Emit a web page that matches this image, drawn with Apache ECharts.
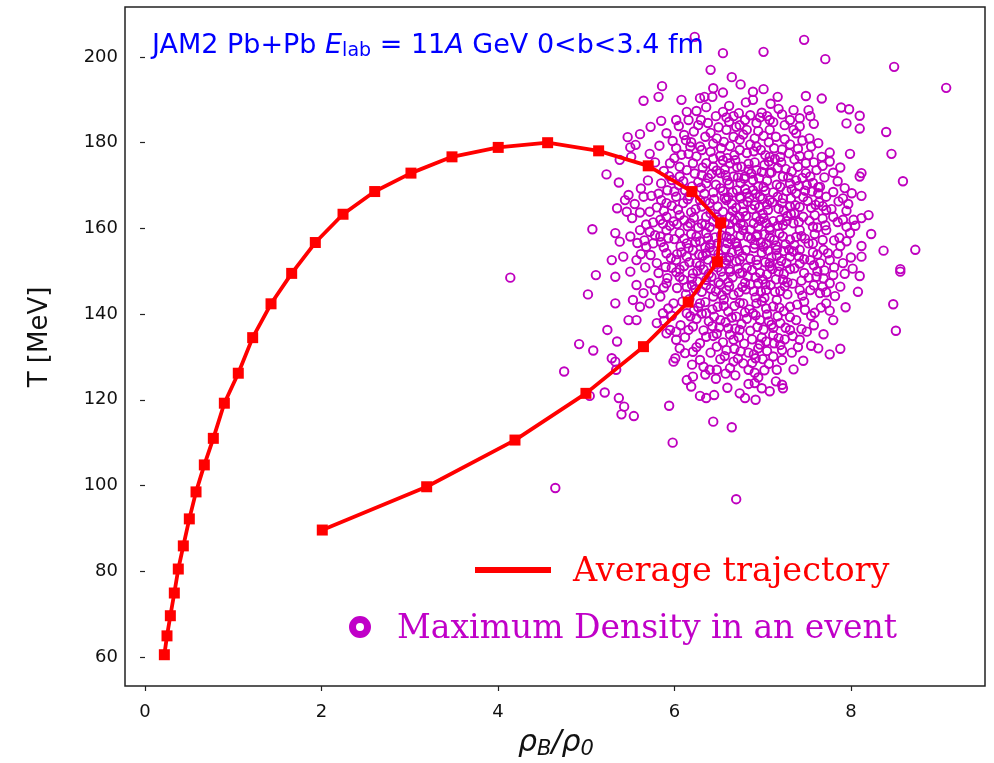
<!DOCTYPE html>
<html><head><meta charset="utf-8">
<script src="https://cdn.jsdelivr.net/npm/echarts@6/dist/echarts.min.js"></script>
<style>html,body{margin:0;padding:0;background:#fff}#c{width:994px;height:763px}</style>
</head><body><div id="c"></div>
<script>
const xTicks = [0, 2, 4, 6, 8];
const yTicks = [60, 80, 100, 120, 140, 160, 180, 200];
const trajRho = [0.219,0.249,0.287,0.332,0.377,0.434,0.502,0.578,0.672,0.774,0.899,1.057,1.220,1.428,1.662,1.930,2.244,2.603,3.014,3.479,4.003,4.563,5.141,5.703,6.198,6.524,6.487,6.156,5.649,4.997,4.193,3.192,2.009];
const trajT = [60.5,64.9,69.6,74.9,80.5,85.9,92.2,98.5,104.8,111.0,119.2,126.2,134.5,142.4,149.5,156.7,163.3,168.6,172.9,176.7,178.9,180.0,178.1,174.6,168.6,161.3,152.2,142.8,132.4,121.5,110.6,99.7,89.6];
const maxDensityEvents = [
[6.23,204.7],[6.55,200.9],[6.41,197.0],[6.65,195.3],[6.75,193.6],[6.55,191.7],[6.44,192.7],[5.86,193.2],[5.82,190.7],[5.65,189.8],[6.08,190.0],[6.29,190.4],[6.34,190.7],[6.43,190.7],[6.14,187.2],[6.25,187.4],[6.30,185.3],[6.16,185.3],[6.02,185.3],[5.85,185.1],[6.47,186.2],[6.55,187.2],[6.59,185.9],[6.67,186.2],[6.74,184.1],[6.80,185.3],[5.73,183.7],[5.61,182.0],[5.47,181.3],[5.91,182.2],[6.11,181.8],[6.13,180.6],[6.48,181.0],[6.59,183.0],[6.70,183.7],[6.67,181.4],[6.82,183.0],[5.50,178.9],[5.56,179.5],[5.72,177.4],[6.02,178.7],[6.18,179.1],[6.29,179.1],[6.53,178.7],[6.74,178.3],[5.38,176.0],[5.51,176.7],[5.95,175.2],[6.06,174.4],[6.21,175.2],[6.36,175.2],[6.44,174.4],[6.63,175.2],[6.76,174.4],[5.23,172.6],[5.37,170.7],[5.85,170.5],[5.97,171.3],[6.06,172.1],[6.36,170.5],[6.52,172.9],[6.67,172.1],[6.80,172.1],[5.48,167.8],[5.44,166.6],[5.55,165.7],[5.65,167.4],[5.74,167.6],[5.85,166.6],[5.91,165.9],[6.02,167.4],[6.10,165.9],[6.29,166.6],[6.40,165.9],[6.59,166.6],[6.74,167.4],[6.82,168.2],[5.35,164.7],[5.46,163.9],[5.61,163.7],[5.72,163.9],[5.84,162.0],[5.91,162.7],[5.99,161.6],[6.06,163.1],[6.18,161.2],[6.36,162.7],[6.44,161.6],[6.63,162.7],[6.74,162.7],[5.07,159.8],[5.33,158.9],[5.38,156.9],[5.50,158.1],[5.61,159.6],[5.72,159.2],[5.76,156.5],[5.84,158.1],[5.91,159.6],[6.06,158.9],[6.14,156.5],[6.25,158.1],[6.36,158.9],[6.59,158.1],[6.70,156.5],[6.78,159.6],[5.29,152.6],[5.42,153.4],[5.57,152.6],[5.68,155.7],[5.80,151.9],[5.91,154.2],[6.02,152.6],[6.14,153.4],[6.25,151.9],[6.36,154.2],[6.59,152.6],[6.74,152.6],
[7.47,204.0],[7.01,201.2],[7.71,199.5],[8.49,197.7],[9.08,192.8],[7.01,192.5],[6.89,191.9],[6.89,190.0],[7.17,190.7],[7.49,190.9],[7.67,190.3],[7.89,188.2],[7.98,187.8],[8.10,186.3],[7.95,184.5],[8.10,183.3],[8.40,182.5],[8.46,177.4],[8.59,171.0],[6.99,187.0],[6.97,185.9],[7.08,185.3],[7.35,187.6],[7.52,187.6],[7.54,186.2],[7.42,185.7],[7.31,185.3],[7.25,184.1],[7.58,184.4],[7.08,183.0],[7.01,181.6],[6.91,181.0],[7.35,183.0],[7.25,180.8],[7.38,182.2],[7.53,181.0],[7.55,179.1],[6.93,179.1],[7.03,177.1],[7.08,176.7],[7.20,176.7],[7.42,176.9],[7.52,177.1],[7.67,176.7],[7.76,177.7],[7.76,175.6],[7.99,177.4],[7.40,174.4],[7.61,173.6],[7.80,173.0],[8.10,172.1],[8.12,172.9],[7.54,172.1],[7.50,170.1],[7.63,168.2],[7.65,169.7],[7.93,169.4],[7.91,167.0],[7.97,165.7],[8.12,167.6],[6.93,173.6],[7.08,172.9],[7.23,172.1],[7.31,170.5],[7.20,169.7],[7.01,169.7],[6.89,171.3],[6.97,167.4],[7.08,166.6],[7.23,167.0],[7.38,168.2],[7.31,165.1],[7.46,162.7],[7.59,163.1],[7.72,164.3],[7.80,162.7],[7.91,162.0],[8.03,162.0],[8.20,163.1],[8.12,162.4],[8.23,158.7],[8.37,154.8],[8.73,155.0],[7.88,155.9],[8.12,155.9],[8.12,153.4],[8.56,150.5],[6.93,162.7],[7.04,161.2],[7.20,162.0],[7.35,161.2],[6.93,158.1],[7.08,159.6],[7.23,158.1],[7.42,159.6],[7.57,160.4],[7.72,159.6],[7.95,160.4],[7.99,158.9],[7.57,156.5],[7.69,155.0],[7.76,152.6],[7.54,152.6],[7.31,153.4],[7.16,155.0],[7.01,155.7],[6.93,152.6],[7.08,151.9],[7.27,151.9],[7.42,155.0],[7.65,151.9],[7.91,151.9],
[5.11,149.1],[5.33,148.7],[5.50,149.9],[5.02,144.6],[5.33,142.5],[5.57,146.8],[5.65,144.9],[5.53,143.3],[5.61,141.7],[5.48,138.6],[5.57,138.6],[5.72,142.5],[5.24,136.3],[4.92,133.0],[5.08,131.5],[5.35,133.6],[5.29,129.7],[5.33,128.9],[5.34,127.0],[4.75,126.6],[5.21,121.7],[5.04,120.9],[5.37,120.4],[5.43,118.4],[5.40,116.6],[5.54,116.2],[5.94,118.6],[5.98,110.0],[4.65,99.4],[6.70,96.8],[6.44,114.9],[6.65,113.6],[5.99,128.9],[6.01,129.7],[6.06,132.0],[6.21,131.2],[6.29,129.3],[6.14,124.6],[6.19,123.1],[6.29,120.9],[6.36,120.4],[6.45,121.1],[6.21,125.4],[6.40,127.0],[6.48,127.0],[6.33,127.7],[6.67,128.9],[6.78,128.5],[6.84,127.0],[6.74,121.5],[6.80,120.4],[5.80,137.9],[5.91,135.5],[6.02,134.0],[5.87,140.2],[5.95,136.3],[6.21,137.1],[6.36,134.7],[6.48,132.4],[6.59,131.6],[6.67,134.0],[6.74,136.3],[6.06,148.7],[6.21,149.5],[6.36,148.0],[6.55,148.7],[6.74,149.5],[6.59,145.6],[6.44,144.1],[6.29,142.5],[6.78,142.5],[6.70,139.4],[6.52,138.6],[6.36,140.2],[6.14,140.2],[5.99,142.5],[5.84,144.1],[5.91,147.2],[5.72,147.2],[4.14,148.5],
[8.56,149.9],[8.10,148.9],[8.08,145.2],[8.48,142.3],[8.51,136.1],[7.94,141.6],[7.82,144.2],[7.76,140.8],[7.72,142.5],[7.65,144.9],[7.59,140.3],[7.48,141.0],[7.50,135.9],[7.42,134.0],[7.55,132.6],[7.63,132.0],[7.76,130.6],[7.88,131.9],[7.46,129.1],[7.35,127.1],[7.33,131.0],[7.22,131.6],[7.22,129.3],[7.23,122.7],[7.22,123.5],[6.92,120.0],[6.99,122.7],[6.91,123.9],[6.91,126.3],[6.95,132.0],[6.92,129.7],[7.12,135.1],[7.31,136.3],[7.10,137.5],[6.97,138.6],[6.89,140.2],[7.16,143.3],[7.31,141.7],[7.42,145.6],[7.61,148.7],[7.76,147.2],[7.93,149.4],[7.23,148.0],[7.04,145.6],[6.93,142.5],[7.38,138.6],[7.54,145.6],
[6.62,170.3],[6.71,168.9],[6.85,167.2],[6.95,169.8],[7.05,171.1],[7.12,168.4],[7.22,165.9],[6.88,164.5],[6.78,165.7],[6.66,164.1],[6.55,168.7],[6.47,170.2],[6.41,163.5],[6.52,160.9],[6.63,159.4],[6.75,161.1],[6.86,159.7],[6.97,161.8],[7.06,164.3],[7.17,160.6],[7.28,162.9],[7.37,165.4],[7.46,167.3],[7.55,164.8],[7.64,166.1],[7.71,160.7],[7.48,157.6],[7.36,156.1],[7.24,154.7],[7.13,157.3],[7.02,158.6],[6.91,156.3],[6.81,154.9],[6.69,156.8],[6.58,155.2],[6.46,157.9],[6.35,155.6],[6.27,160.2],[6.19,163.8],[6.12,168.9],[6.23,172.8],[6.34,168.1],[6.44,176.3],[6.57,173.7],[6.68,177.1],[6.79,171.6],[6.91,175.4],[7.02,174.8],[7.14,176.2],[7.26,173.9],[7.38,171.2],[7.49,172.9],[7.33,169.1],[7.19,151.2],[7.05,149.3],[6.94,151.5],[6.83,148.8],[6.72,150.6],[6.61,147.4],[6.49,150.9],[6.38,152.7],[6.26,150.1],[6.14,146.3],[6.08,154.4],[6.02,149.8],[6.31,145.2],[6.43,141.1],[6.56,143.4],[6.68,141.9],[6.81,145.8],[6.92,143.9],[7.04,141.3],[7.17,139.5],[7.28,144.6],[7.39,142.2],[7.47,149.6],[7.58,151.4],[7.69,148.3],[7.81,150.9],[7.87,157.8],[7.78,164.5],[7.63,169.6],[6.76,137.7],[6.63,135.2],[6.51,136.9],[6.88,134.1],[7.01,136.4],[7.13,133.2],[7.26,136.8],[6.39,138.3],[6.27,141.6],[6.17,143.5],[6.84,131.0],[6.72,129.6],[7.07,128.4],[6.58,126.1],[6.95,125.2],[7.15,124.3],
[6.38,184.6],[6.62,184.9],[6.86,186.4],[7.12,184.8],[7.18,187.9],[6.22,182.6],[6.35,181.4],[6.56,180.2],[6.78,181.9],[6.95,182.7],[7.15,181.4],[7.31,179.6],[7.45,180.5],[6.44,179.8],[6.86,179.6],[6.08,177.2],[6.25,176.8],[6.41,177.9],[6.60,176.4],[6.82,177.6],[6.98,178.3],[7.13,178.7],[7.30,177.5],[7.58,175.4],[6.52,176.9],[5.88,173.4],[6.14,173.6],[6.31,172.4],[6.48,173.5],[6.71,174.3],[6.87,172.8],[6.99,173.2],[7.17,174.1],[7.33,173.3],[7.45,171.8],[7.70,171.9],[6.60,171.2],[6.75,170.6],[5.92,168.9],[6.05,170.1],[6.20,169.8],[6.38,171.8],[6.52,169.4],[6.66,168.4],[6.80,169.2],[6.92,168.1],[7.03,168.8],[7.16,170.2],[7.27,168.7],[7.41,169.9],[7.56,168.6],[7.72,167.4],[6.30,169.5],[5.80,164.9],[5.97,165.3],[6.15,166.8],[6.24,164.5],[6.35,166.3],[6.49,165.1],[6.61,167.3],[6.70,164.8],[6.83,166.2],[6.96,164.9],[7.11,166.1],[7.24,164.2],[7.42,165.0],[7.51,166.4],[7.68,165.2],[7.86,166.3],[6.55,163.9],[7.00,163.4],[5.76,161.4],[5.95,160.6],[6.11,161.9],[6.22,162.5],[6.31,161.1],[6.48,162.6],[6.57,161.3],[6.68,162.0],[6.81,162.9],[6.90,161.2],[7.01,162.4],[7.12,161.7],[7.23,160.8],[7.32,163.4],[7.53,161.8],[7.62,160.2],[7.85,161.5],[6.40,160.3],[6.72,160.1],[5.66,157.2],[5.85,156.8],[6.00,157.5],[6.19,158.7],[6.29,157.0],[6.41,156.3],[6.53,158.4],[6.64,157.5],[6.75,158.3],[6.87,157.6],[6.98,156.7],[7.08,157.9],[7.19,158.8],[7.31,157.4],[7.44,158.2],[7.59,158.7],[7.81,157.2],[6.71,155.8],[7.26,156.3],[5.73,153.8],[5.96,153.1],[6.07,155.8],[6.21,154.9],[6.32,153.6],[6.44,154.8],[6.54,153.1],[6.65,154.4],[6.77,153.5],[6.86,152.9],[6.99,154.3],[7.10,153.3],[7.21,152.4],[7.35,154.6],[7.47,152.8],[7.62,153.9],[7.85,154.1],[6.58,151.8],[7.03,152.1],[5.82,149.6],[5.97,150.8],[6.11,151.2],[6.20,148.3],[6.33,150.4],[6.42,148.7],[6.53,149.9],[6.66,148.6],[6.77,149.7],[6.88,150.3],[7.00,148.1],[7.11,150.5],[7.24,149.4],[7.36,150.7],[7.52,148.5],[7.70,150.2],[6.95,147.2],[5.78,145.6],[6.03,146.1],[6.24,145.8],[6.36,146.7],[6.47,145.3],[6.62,146.5],[6.73,145.1],[6.86,146.9],[6.98,145.2],[7.09,146.8],[7.20,145.4],[7.34,147.1],[7.58,146.7],[7.88,146.4],[6.54,144.4],[5.93,141.3],[6.09,142.9],[6.22,140.8],[6.35,142.8],[6.49,141.7],[6.61,140.6],[6.74,142.6],[6.85,141.1],[6.99,143.0],[7.12,141.8],[7.24,140.7],[7.47,142.9],[7.66,141.5],[5.88,138.4],[6.07,137.4],[6.25,138.9],[6.43,137.2],[6.58,138.1],[6.69,136.6],[6.82,138.9],[6.94,137.0],[7.07,138.3],[7.20,137.9],[7.34,134.9],[7.58,137.4],[6.12,134.6],[6.29,133.2],[6.44,134.9],[6.55,133.4],[6.79,133.1],[6.97,132.9],[7.05,131.4],[7.18,134.4],[6.68,131.9],[6.20,128.2],[6.52,129.5],[6.63,127.4],[6.88,128.6],[7.02,126.9],[7.12,130.1],[6.47,124.9],[6.60,122.8],[7.08,122.0],
[6.05,183.9],[6.27,184.1],[6.50,183.6],[6.73,186.9],[6.93,184.6],[7.05,186.2],[7.22,186.6],[7.42,183.8],[6.62,188.6],[6.81,189.4],[7.09,189.1],[6.36,188.3],[5.98,180.4],[6.19,180.1],[6.41,182.3],[6.63,179.2],[6.74,180.7],[6.90,178.0],[7.07,180.1],[7.22,178.4],[7.40,178.6],[7.63,179.9],[6.31,178.3],[5.83,179.3],[5.78,175.4],[6.00,176.4],[6.16,177.4],[6.32,174.2],[6.55,175.9],[6.69,175.9],[6.84,175.1],[7.07,175.6],[7.21,175.4],[7.36,176.1],[7.49,175.2],[7.68,174.6],[7.88,174.2],[5.70,171.2],[5.94,172.2],[6.10,171.0],[6.27,170.8],[6.42,172.7],[6.58,172.4],[6.72,171.9],[6.84,173.7],[6.96,171.7],[7.10,173.1],[7.29,171.9],[7.57,170.6],[7.85,171.0],[5.62,169.3],[5.82,168.1],[6.00,168.6],[6.17,167.6],[6.44,168.4],[6.57,167.1],[6.75,167.0],[6.89,168.9],[7.00,166.9],[7.17,167.4],[7.32,167.0],[7.48,168.8],[7.80,168.5],[8.01,168.2],[5.88,164.1],[6.04,164.4],[6.31,165.1],[6.45,166.8],[6.65,165.7],[6.78,163.9],[6.91,165.4],[7.05,165.6],[7.18,164.6],[7.36,163.6],[7.60,165.5],[7.95,164.1],[5.52,162.4],[5.68,160.9],[5.87,161.1],[6.03,161.0],[6.15,160.5],[6.35,160.9],[6.51,162.0],[6.62,161.0],[6.78,160.7],[6.95,160.4],[7.08,160.2],[7.27,161.7],[7.41,161.5],[7.68,162.3],[8.05,160.6],[5.58,156.6],[5.78,158.4],[5.93,157.7],[6.11,157.6],[6.24,156.8],[6.38,157.8],[6.49,156.5],[6.60,156.6],[6.83,158.1],[6.94,158.5],[7.04,156.4],[7.15,156.0],[7.38,158.0],[7.52,156.5],[7.68,157.3],[7.95,157.0],[5.62,154.0],[5.88,155.6],[6.03,154.0],[6.16,155.4],[6.28,153.9],[6.40,155.5],[6.50,154.1],[6.62,153.2],[6.73,154.7],[6.90,155.4],[7.06,154.8],[7.16,153.6],[7.30,155.0],[7.41,153.4],[7.57,154.4],[7.74,154.2],[8.00,153.2],[5.67,150.9],[5.90,151.0],[6.06,150.4],[6.17,152.1],[6.29,151.3],[6.45,151.6],[6.62,150.5],[6.70,152.3],[6.82,150.8],[6.97,149.6],[7.08,151.1],[7.18,149.9],[7.31,150.5],[7.42,151.8],[7.62,150.0],[7.80,149.1],[8.02,150.6],[5.92,148.4],[6.10,148.0],[6.26,147.6],[6.39,149.4],[6.50,147.4],[6.63,149.9],[6.80,147.3],[6.92,148.6],[7.03,147.0],[7.15,148.1],[7.28,147.4],[7.44,147.8],[7.68,146.4],[5.88,146.2],[6.13,144.6],[6.20,146.8],[6.41,145.9],[6.52,146.9],[6.67,144.5],[6.77,146.3],[6.90,145.3],[7.02,143.8],[7.14,145.2],[7.25,146.5],[7.45,144.3],[7.72,145.1],[5.97,139.6],[6.18,139.5],[6.31,140.1],[6.45,139.4],[6.56,141.9],[6.65,139.2],[6.80,140.4],[6.92,139.7],[7.05,139.9],[7.19,141.5],[7.31,139.3],[7.55,139.6],[7.80,138.6],[6.02,135.9],[6.16,136.3],[6.33,136.2],[6.48,135.4],[6.61,136.7],[6.73,134.6],[6.86,136.1],[6.99,134.5],[7.12,136.8],[7.25,134.1],[7.44,136.5],[7.69,135.3],[6.12,130.9],[6.25,132.3],[6.41,131.0],[6.57,130.2],[6.75,131.3],[6.90,130.6],[7.04,133.6],[7.20,132.8],[7.40,132.3],[6.35,125.9],[6.69,125.7],[6.84,123.7],[7.00,129.5],[7.16,127.0]
];

const chart = echarts.init(document.getElementById('c'), null, {renderer: 'canvas'});
const trajData = trajRho.map((r, i) => [r, trajT[i]]);
const FONT = 'DejaVu Sans';
chart.setOption({
  animation: false,
  backgroundColor: '#fff',
  grid: {left: 125, top: 7, width: 860, height: 679, show: true, borderColor: '#222', borderWidth: 1.5, backgroundColor: 'transparent'},
  xAxis: {
    type: 'value', min: -0.227, max: 9.52,
    splitLine: {show: false},
    axisLine: {show: false},
    axisTick: {show: true, inside: false, length: 5, customValues: xTicks, lineStyle: {color: '#222', width: 1.2}},
    axisLabel: {customValues: xTicks, fontSize: 18, color: '#111', fontFamily: FONT, margin: 17}
  },
  yAxis: {
    type: 'value', min: 53.2, max: 211.67,
    splitLine: {show: false},
    axisLine: {show: false},
    axisTick: {show: true, inside: false, length: 5, customValues: yTicks, lineStyle: {color: '#222', width: 1.2}},
    axisLabel: {customValues: yTicks, fontSize: 18, color: '#111', fontFamily: FONT, margin: 7}
  },
  series: [
    {
      type: 'scatter', data: maxDensityEvents, symbol: 'circle', symbolSize: 8.5, silent: true, z: 2,
      itemStyle: {color: 'rgba(0,0,0,0)', borderColor: '#bf00bf', borderWidth: 1.9, opacity: 1}
    },
    {
      type: 'line', data: trajData, symbol: 'rect', symbolSize: 11, showSymbol: true, silent: true, z: 3,
      itemStyle: {color: '#ff0000'}, lineStyle: {color: '#ff0000', width: 3.8}
    }
  ],
  graphic: [
    {type: 'text', x: 152, y: 46, z: 10, style: {
      text: '{n|JAM2 Pb+Pb }{i|E}{s|lab}{n| = 11}{i|A}{n| GeV 0<b<3.4 fm}',
      verticalAlign: 'middle', align: 'left',
      rich: {
        n: {fontFamily: FONT, fontSize: 27, fill: '#0000ff', lineHeight: 30},
        i: {fontFamily: FONT, fontSize: 27, fontStyle: 'italic', fill: '#0000ff', lineHeight: 30},
        s: {fontFamily: FONT, fontSize: 19, fill: '#0000ff', lineHeight: 14, verticalAlign: 'bottom'}
      }
    }},
    {type: 'text', x: 40, y: 337, rotation: Math.PI / 2, z: 10, style: {
      text: 'T [MeV]', font: '26px DejaVu Sans', fill: '#111', align: 'center', verticalAlign: 'middle'
    }},
    {type: 'text', x: 556, y: 743, z: 10, style: {
      text: '{i|ρ}{s|B}{i|/ρ}{s|0}', align: 'center', verticalAlign: 'middle',
      rich: {
        i: {fontFamily: FONT, fontSize: 30, fontStyle: 'italic', fill: '#111', lineHeight: 34},
        s: {fontFamily: FONT, fontSize: 21, fontStyle: 'italic', fill: '#111', lineHeight: 18, verticalAlign: 'bottom'}
      }
    }},
    {type: 'line', z: 10, shape: {x1: 475, y1: 570, x2: 551, y2: 570}, style: {stroke: '#ff0000', lineWidth: 6}},
    {type: 'text', x: 573, y: 572, z: 10, style: {
      text: 'Average trajectory', font: '33.5px DejaVu Serif', fill: '#ff0000', align: 'left', verticalAlign: 'middle'
    }},
    {type: 'circle', z: 10, shape: {cx: 360, cy: 627, r: 7.5}, style: {fill: 'none', stroke: '#c000c8', lineWidth: 7}},
    {type: 'text', x: 397, y: 629, z: 10, style: {
      text: 'Maximum Density in an event', font: '33px DejaVu Serif', fill: '#c000c8', align: 'left', verticalAlign: 'middle'
    }}
  ]
});
</script>
</body></html>
